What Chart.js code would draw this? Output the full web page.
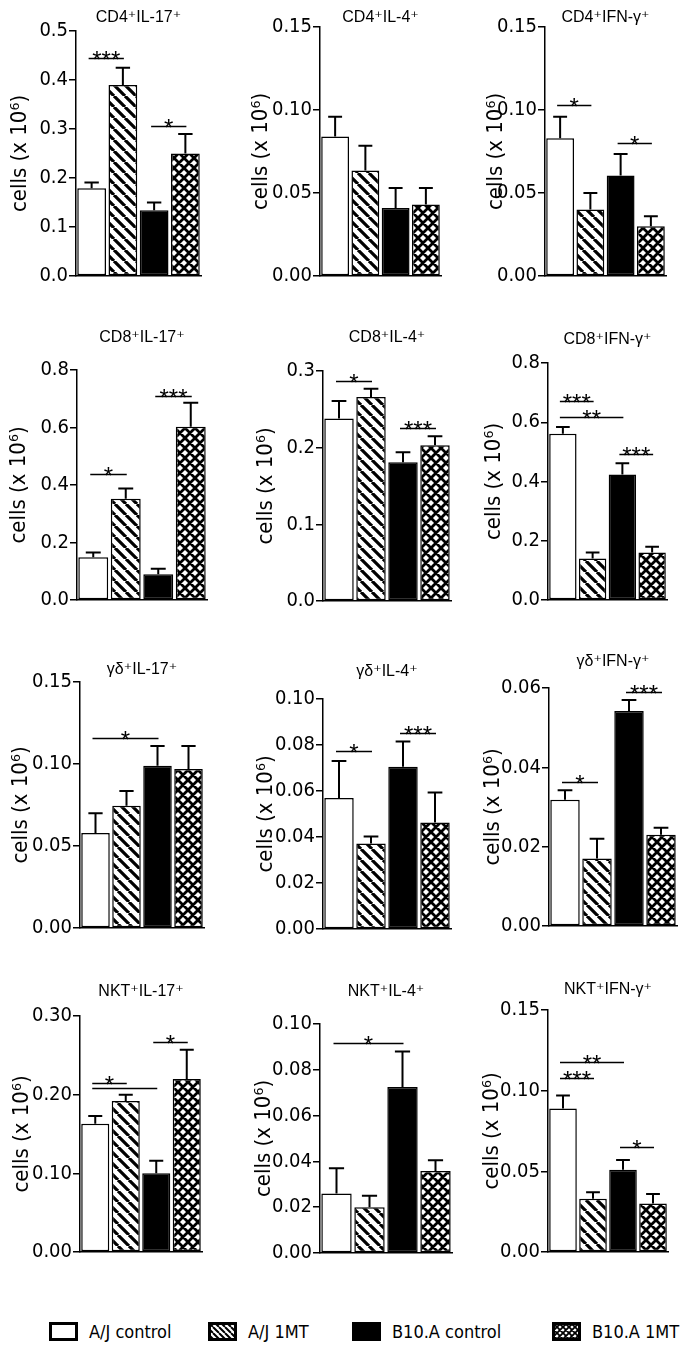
<!DOCTYPE html>
<html>
<head>
<meta charset="utf-8">
<script src="https://cdn.jsdelivr.net/npm/chart.js@4.4.1/dist/chart.umd.min.js"></script>
<style>
  body { margin:0; background:#fff; width:686px; height:1368px; position:relative; overflow:hidden; }
  .panel { position:absolute; }
  .leg { position:absolute; top:1320px; height:22px; display:flex; align-items:center; white-space:nowrap;
         font-family:"Liberation Sans Narrow","DejaVu Sans Condensed","Liberation Sans",sans-serif;
         font-size:18px; color:#000; }
  .leg canvas { margin-right:10px; }
</style>
</head>
<body>
<script>
// groups (bars in every panel, left to right)
const groups = ["A/J control", "A/J 1MT", "B10.A control", "B10.A 1MT"];

const panelTitles = [
  "CD4⁺IL-17⁺", "CD4⁺IL-4⁺", "CD4⁺IFN-γ⁺",
  "CD8⁺IL-17⁺", "CD8⁺IL-4⁺", "CD8⁺IFN-γ⁺",
  "γδ⁺IL-17⁺", "γδ⁺IL-4⁺", "γδ⁺IFN-γ⁺",
  "NKT⁺IL-17⁺", "NKT⁺IL-4⁺", "NKT⁺IFN-γ⁺"
];

// mean cells (x 10^6) per panel, one value per group
const means = [
  [0.179, 0.390, 0.134, 0.250],
  [0.084, 0.0635, 0.041, 0.043],
  [0.083, 0.040, 0.0605, 0.030],
  [0.149, 0.352, 0.090, 0.603],
  [0.238, 0.266, 0.181, 0.203],
  [0.561, 0.140, 0.424, 0.160],
  [0.058, 0.0745, 0.099, 0.097],
  [0.057, 0.0372, 0.0705, 0.0463],
  [0.0318, 0.0170, 0.0542, 0.0230],
  [0.163, 0.192, 0.100, 0.220],
  [0.026, 0.020, 0.0725, 0.0358],
  [0.089, 0.033, 0.051, 0.030]
];

// SEM (upper error bar length)
const sem = [
  [0.012, 0.035, 0.016, 0.040],
  [0.012, 0.015, 0.012, 0.010],
  [0.013, 0.010, 0.013, 0.006],
  [0.016, 0.036, 0.019, 0.083],
  [0.023, 0.011, 0.013, 0.012],
  [0.023, 0.020, 0.038, 0.020],
  [0.012, 0.009, 0.012, 0.014],
  [0.016, 0.003, 0.011, 0.013],
  [0.0024, 0.0050, 0.0028, 0.0018],
  [0.010, 0.008, 0.016, 0.037],
  [0.011, 0.005, 0.0155, 0.0047],
  [0.008, 0.004, 0.006, 0.006]
];

// y axis ticks
const yMax      = [0.5, 0.15, 0.15, 0.8, 0.3, 0.8, 0.15, 0.10, 0.06, 0.30, 0.10, 0.15];
const yStep     = [0.1, 0.05, 0.05, 0.2, 0.1, 0.2, 0.05, 0.02, 0.02, 0.10, 0.02, 0.05];
const yDecimals = [1, 2, 2, 1, 1, 1, 2, 2, 2, 2, 2, 2];

// significance brackets: [from group, to group, height, label]
const sigBars = [
  [[0, 1, 0.445, "***"], [2, 3, 0.307, "*"]],
  [],
  [[0, 1, 0.103, "*"], [2, 3, 0.080, "*"]],
  [[0, 1, 0.44, "*"], [2, 3, 0.71, "***"]],
  [[0, 1, 0.287, "*"], [2, 3, 0.226, "***"]],
  [[0, 1, 0.672, "***"], [0, 2, 0.618, "**"], [2, 3, 0.494, "***"]],
  [[0, 2, 0.116, "*"]],
  [[0, 1, 0.0775, "*"], [2, 3, 0.0853, "***"]],
  [[0, 1, 0.0362, "*"], [2, 3, 0.059, "***"]],
  [[0, 1, 0.215, "*"], [0, 2, 0.209, ""], [2, 3, 0.267, "*"]],
  [[0, 2, 0.0917, "*"]],
  [[0, 1, 0.108, "***"], [0, 2, 0.118, "**"], [2, 3, 0.065, "*"]]
];

// page layout of each panel (axis x, plot top/bottom, bar end, title y, y-title x)
const panelBoxes = [
  {ax:76,  top:31,   bottom:277,  right:201, titleY:18,  labelX:20},
  {ax:320, top:27,   bottom:277,  right:441, titleY:18,  labelX:260},
  {ax:545, top:27,   bottom:277,  right:666, titleY:18,  labelX:496},
  {ax:77,  top:370,  bottom:601,  right:207, titleY:338, labelX:19},
  {ax:323, top:371,  bottom:602,  right:451, titleY:338, labelX:266},
  {ax:548, top:363,  bottom:601,  right:667, titleY:340, labelX:494},
  {ax:80,  top:682,  bottom:929,  right:204, titleY:670, labelX:20},
  {ax:323, top:699,  bottom:930,  right:451, titleY:672, labelX:266},
  {ax:549, top:688,  bottom:927,  right:677, titleY:662, labelX:493},
  {ax:80,  top:1016, bottom:1253, right:202, titleY:992, labelX:22},
  {ax:320, top:1024, bottom:1254, right:452, titleY:992, labelX:264},
  {ax:548, top:1010, bottom:1253, right:668, titleY:990, labelX:492}
];

const NARROW = '"Liberation Sans Narrow","DejaVu Sans Condensed","Liberation Sans",sans-serif';
const PLAIN = '"Liberation Sans","DejaVu Sans",sans-serif';

function makeTile(p, draw) {
  const c = document.createElement("canvas");
  c.width = p; c.height = p;
  const g = c.getContext("2d");
  g.fillStyle = "#fff";
  g.fillRect(0, 0, p, p);
  g.strokeStyle = "#000";
  draw(g, p);
  return document.createElement("canvas").getContext("2d").createPattern(c, "repeat");
}

function hatchPattern(p, lw) {
  return makeTile(p, (g, s) => {
    g.lineWidth = lw;
    g.beginPath();
    for (const o of [-s, 0, s]) { g.moveTo(o, 0); g.lineTo(o + s, s); }
    g.stroke();
  });
}

function crossPattern(p, lw) {
  return makeTile(p, (g, s) => {
    g.lineWidth = lw;
    g.beginPath();
    for (const o of [-s, 0, s]) {
      g.moveTo(o, 0); g.lineTo(o + s, s);
      g.moveTo(o + s, 0); g.lineTo(o, s);
    }
    g.stroke();
  });
}

const fills = ["#fff", hatchPattern(11, 3.2), "#000", crossPattern(10, 2.8)];

const errorBarPlugin = {
  id: "errbars",
  afterDatasetsDraw(chart, args, opts) {
    const ctx = chart.ctx, y = chart.scales.y;
    const meta = chart.getDatasetMeta(0);
    const vals = chart.data.datasets[0].data;
    ctx.save();
    ctx.strokeStyle = "#000";
    ctx.lineWidth = 2;
    meta.data.forEach((bar, i) => {
      const yt = y.getPixelForValue(vals[i] + opts.sem[i]);
      const half = bar.width / 4;
      ctx.beginPath();
      ctx.moveTo(bar.x, bar.y);
      ctx.lineTo(bar.x, yt);
      ctx.moveTo(bar.x - half, yt);
      ctx.lineTo(bar.x + half, yt);
      ctx.stroke();
    });
    ctx.restore();
  }
};

const sigPlugin = {
  id: "sig",
  afterDraw(chart, args, opts) {
    const ctx = chart.ctx, x = chart.scales.x, y = chart.scales.y;
    ctx.save();
    ctx.strokeStyle = "#000";
    ctx.fillStyle = "#000";
    ctx.lineWidth = 1.5;
    ctx.font = "24px " + PLAIN;
    ctx.textAlign = "center";
    ctx.textBaseline = "alphabetic";
    opts.items.forEach(([i, j, v, label]) => {
      const yy = Math.round(y.getPixelForValue(v)) + 0.5;
      const x1 = x.getPixelForValue(i) - 3;
      const x2 = x.getPixelForValue(j) + 1;
      ctx.beginPath();
      ctx.moveTo(x1, yy);
      ctx.lineTo(x2, yy);
      ctx.stroke();
      if (label) ctx.fillText(label, (x1 + x2) / 2, yy + 9);
    });
    ctx.restore();
  }
};

function makePanel(k) {
  const box = panelBoxes[k];
  const axisW = 72, padR = 3, padB = 12, titleH = 20;
  const left = box.ax - axisW;
  const topC = box.titleY - titleH / 2;
  const canvas = document.createElement("canvas");
  canvas.className = "panel";
  canvas.width = box.right + padR - left;
  canvas.height = box.bottom + padB - topC;
  canvas.style.left = left + "px";
  canvas.style.top = topC + "px";
  document.body.appendChild(canvas);

  new Chart(canvas, {
    type: "bar",
    data: {
      labels: groups,
      datasets: [{
        data: means[k],
        backgroundColor: fills,
        borderColor: "#000",
        borderWidth: 1.5,
        borderSkipped: false,
        categoryPercentage: 1,
        barPercentage: 0.92
      }]
    },
    options: {
      responsive: false,
      animation: false,
      events: [],
      layout: { padding: { left: 0, right: padR, top: 0, bottom: padB } },
      plugins: {
        legend: { display: false },
        tooltip: { enabled: false },
        title: {
          display: true,
          text: panelTitles[k],
          fullSize: false,
          color: "#000",
          font: { family: PLAIN, size: 16, weight: "normal", lineHeight: titleH / 16 },
          padding: { top: 0, bottom: box.top - (topC + titleH) }
        },
        errbars: { sem: sem[k] },
        sig: { items: sigBars[k] }
      },
      scales: {
        x: {
          ticks: { display: false },
          grid: { display: false },
          border: { display: true, color: "#000", width: 1.5 },
          afterFit(s) { s.height = 0; }
        },
        y: {
          min: 0,
          max: yMax[k],
          ticks: {
            stepSize: yStep[k],
            callback: v => Number(v).toFixed(yDecimals[k]),
            color: "#000",
            font: { family: NARROW, size: 20 },
            padding: 1
          },
          grid: { drawOnChartArea: false, drawTicks: true, tickLength: 7, color: "#000", lineWidth: 1.5 },
          border: { display: true, color: "#000", width: 1.5 },
          title: {
            display: true,
            text: "cells (x 10⁶)",
            color: "#000",
            font: { family: NARROW, size: 22, lineHeight: 1.2 },
            padding: { top: Math.max(0, box.labelX - left - 13), bottom: 0 }
          },
          afterFit(s) { s.width = axisW; }
        }
      }
    },
    plugins: [errorBarPlugin, sigPlugin]
  });
}

for (let k = 0; k < panelTitles.length; k++) makePanel(k);

// legend
const legendX = [48, 207, 351, 551];
const legendFills = ["#fff", hatchPattern(6, 2), "#000", crossPattern(6, 1.8)];
groups.forEach((name, i) => {
  const item = document.createElement("div");
  item.className = "leg";
  item.style.left = legendX[i] + "px";
  const sw = document.createElement("canvas");
  sw.width = 31; sw.height = 21;
  const g = sw.getContext("2d");
  g.fillStyle = legendFills[i];
  g.fillRect(2, 2, 27, 17);
  g.strokeStyle = "#000";
  g.lineWidth = 3;
  g.strokeRect(2.5, 2.5, 26, 16);
  item.appendChild(sw);
  const t = document.createElement("span");
  t.textContent = name;
  item.appendChild(t);
  document.body.appendChild(item);
});
</script>
</body>
</html>
